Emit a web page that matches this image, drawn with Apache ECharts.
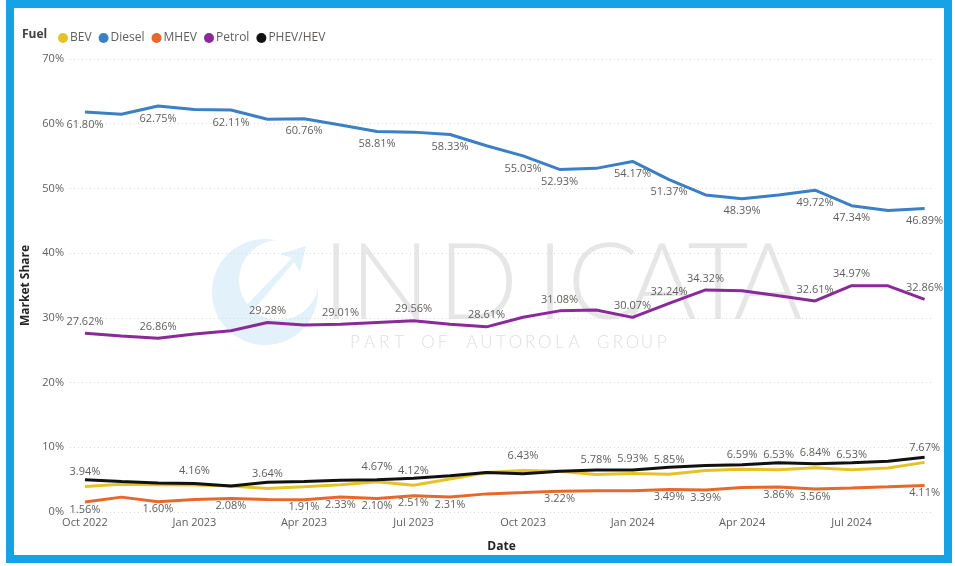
<!DOCTYPE html>
<html>
<head>
<meta charset="utf-8">
<title>Market Share by Fuel</title>
<script src="https://cdn.jsdelivr.net/npm/echarts@6/dist/echarts.min.js"></script>
<style>
  html, body { margin: 0; padding: 0; background: #ffffff; }
  #chart { width: 955px; height: 566px; }
</style>
</head>
<body>
<div id="chart"></div>
<script>
// Monthly market share by fuel type, Oct 2022 - Sep 2024
const categories = [
  'Oct 2022', 'Nov 2022', 'Dec 2022', 'Jan 2023', 'Feb 2023', 'Mar 2023',
  'Apr 2023', 'May 2023', 'Jun 2023', 'Jul 2023', 'Aug 2023', 'Sep 2023',
  'Oct 2023', 'Nov 2023', 'Dec 2023', 'Jan 2024', 'Feb 2024', 'Mar 2024',
  'Apr 2024', 'May 2024', 'Jun 2024', 'Jul 2024', 'Aug 2024', 'Sep 2024'
];

const bev    = [3.94, 4.30, 4.20, 4.16, 4.00, 3.64, 3.90, 4.20, 4.67, 4.12, 5.10, 6.10,
                6.43, 6.30, 5.78, 5.93, 5.85, 6.40, 6.59, 6.53, 6.84, 6.53, 6.80, 7.67];
const diesel = [61.80, 61.45, 62.75, 62.20, 62.11, 60.70, 60.76, 59.80, 58.81, 58.70, 58.33, 56.60,
                55.03, 52.93, 53.10, 54.17, 51.37, 49.00, 48.39, 49.00, 49.72, 47.34, 46.60, 46.89];
const mhev   = [1.56, 2.30, 1.60, 1.95, 2.08, 1.95, 1.91, 2.33, 2.10, 2.51, 2.31, 2.80,
                3.00, 3.22, 3.30, 3.30, 3.49, 3.39, 3.80, 3.86, 3.56, 3.70, 3.90, 4.11];
const petrol = [27.62, 27.20, 26.86, 27.50, 28.00, 29.28, 28.90, 29.01, 29.30, 29.56, 29.00, 28.61,
                30.10, 31.08, 31.20, 30.07, 32.24, 34.32, 34.20, 33.40, 32.61, 34.97, 34.95, 32.86];
const phev   = [5.00, 4.70, 4.50, 4.40, 4.00, 4.60, 4.70, 4.90, 5.00, 5.20, 5.60, 6.10,
                5.90, 6.30, 6.50, 6.50, 6.90, 7.20, 7.30, 7.60, 7.45, 7.60, 7.85, 8.45];

// Months whose value is printed on the line
const bevLabelIdx    = [0, 3, 5, 8, 9, 12, 14, 15, 16, 18, 19, 20, 21, 23];
const dieselLabelIdx = [0, 2, 4, 6, 8, 10, 12, 13, 15, 16, 18, 20, 21, 23];
const mhevLabelIdx   = [0, 2, 4, 6, 7, 8, 9, 10, 13, 16, 17, 19, 20, 23];
const petrolLabelIdx = [0, 2, 5, 7, 9, 11, 13, 15, 16, 17, 20, 21, 23];
const phevLabelIdx   = [];

const yTicks = [0, 10, 20, 30, 40, 50, 60, 70];
const xTickIdx = [0, 3, 6, 9, 12, 15, 18, 21];

const FONT = "'Open Sans', 'Noto Sans', sans-serif";
const LABEL_COLOR = '#605e5c';

function pairs(values) {
  return values.map((v, i) => [i, v]);
}

function makeSeries(name, values, color, labelIdx, position, distance) {
  const shown = new Set(labelIdx);
  return {
    name: name,
    type: 'line',
    data: pairs(values),
    symbol: 'circle',
    symbolSize: 0,
    showSymbol: true,
    smooth: false,
    lineStyle: { color: color, width: 3 },
    itemStyle: { color: color },
    emphasis: { disabled: true },
    label: {
      show: true,
      position: position,
      distance: distance,
      color: LABEL_COLOR,
      fontFamily: FONT,
      fontSize: 11,
      formatter: p => shown.has(p.dataIndex) ? p.value[1].toFixed(2) + '%' : ''
    },
    labelLayout: { hideOverlap: false }
  };
}

// Faint brand mark behind the plot
const wordmark = 'INDICATA'.split('');
const wordmarkX = [336, 390, 478, 550, 603, 662, 718, 768];
const tagline = 'PART OF AUTOROLA GROUP'.split('');
const watermark = [];
wordmark.forEach((ch, i) => {
  watermark.push({
    type: 'text', z: 0, silent: true,
    x: wordmarkX[i], y: 285,
    style: {
      text: ch, fill: '#e6e6e6', font: "300 106px Lato, 'Open Sans', sans-serif",
      align: 'center', verticalAlign: 'middle'
    }
  });
});
tagline.forEach((ch, i) => {
  watermark.push({
    type: 'text', z: 0, silent: true,
    x: 355 + i * 14.6, y: 343,
    style: {
      text: ch, fill: '#dedede', font: "300 17px Lato, 'Open Sans', sans-serif",
      align: 'center', verticalAlign: 'middle'
    }
  });
});
// round logo: light blue disc with a white swoosh
watermark.push(
  { type: 'circle', z: 0, silent: true, shape: { cx: 265, cy: 292, r: 53 },
    style: { fill: '#e3f1fa' } },
  { type: 'circle', z: 0, silent: true, shape: { cx: 279, cy: 280, r: 40 },
    style: { fill: '#ffffff' } },
  { type: 'polygon', z: 0, silent: true,
    shape: { points: [[232, 320], [292, 258], [280, 254], [306, 246], [300, 272], [294, 262], [240, 326]] },
    style: { fill: '#e3f1fa' } }
);

// outer blue frame
watermark.push({
  type: 'rect', z: 10, silent: true,
  shape: { x: 10, y: 4, width: 938, height: 555 },
  style: { fill: 'none', stroke: '#16a3e6', lineWidth: 8 }
});

// legend heading
watermark.push({
  type: 'text', z: 10, silent: true, x: 22, y: 35,
  style: { text: 'Fuel', fill: '#404040', font: "bold 12px " + FONT, verticalAlign: 'middle' }
});

const chart = echarts.init(document.getElementById('chart'), null, { renderer: 'canvas' });

chart.setOption({
  animation: false,
  backgroundColor: '#ffffff',
  textStyle: { fontFamily: FONT },
  legend: {
    left: 53, top: 27,
    icon: 'circle',
    itemWidth: 10, itemHeight: 10, itemGap: 7,
    textStyle: { color: '#605e5c', fontSize: 12, fontFamily: FONT, padding: [0, 0, 0, -3] },
    data: ['BEV', 'Diesel', 'MHEV', 'Petrol', 'PHEV/HEV']
  },
  grid: { left: 70, right: 22, top: 59, bottom: 54 },
  xAxis: {
    type: 'value',
    min: -0.41,
    max: 23.23,
    name: 'Date',
    nameLocation: 'middle',
    nameGap: 29,
    nameTextStyle: { color: '#252423', fontSize: 12, fontWeight: 'bold', fontFamily: FONT },
    axisLine: { show: false },
    axisTick: { show: false },
    splitLine: { show: false },
    axisLabel: {
      customValues: xTickIdx,
      color: LABEL_COLOR,
      fontSize: 11,
      margin: 5,
      formatter: v => categories[Math.round(v)] || ''
    }
  },
  yAxis: {
    type: 'value',
    min: 0,
    max: 70,
    interval: 10,
    name: 'Market Share',
    nameLocation: 'middle',
    nameRotate: 90,
    nameGap: 38,
    nameTextStyle: { color: '#252423', fontSize: 12, fontWeight: 'bold', fontFamily: FONT },
    axisLine: { show: false },
    axisTick: { show: false },
    axisLabel: {
      color: LABEL_COLOR,
      fontSize: 11,
      margin: 6,
      formatter: v => yTicks.includes(v) ? v + '%' : ''
    },
    splitLine: { show: true, lineStyle: { color: '#d9d9d9', type: [1, 3], width: 1 } }
  },
  graphic: watermark,
  series: [
    makeSeries('BEV', bev, '#e6c229', bevLabelIdx, 'top', 9),
    makeSeries('Diesel', diesel, '#3b7fc4', dieselLabelIdx, 'bottom', 7),
    makeSeries('MHEV', mhev, '#e8672a', mhevLabelIdx, 'bottom', 2),
    makeSeries('Petrol', petrol, '#8a2a99', petrolLabelIdx, 'top', 6),
    makeSeries('PHEV/HEV', phev, '#111111', phevLabelIdx, 'top', 5)
  ]
});
</script>
</body>
</html>
